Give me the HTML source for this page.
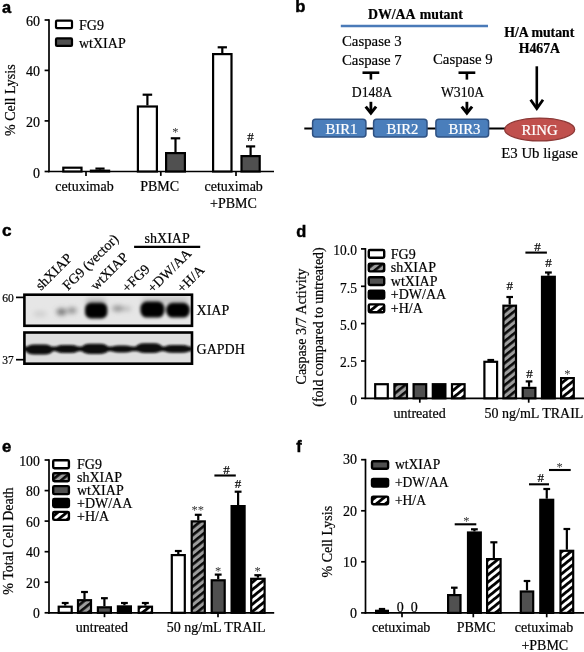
<!DOCTYPE html>
<html><head><meta charset="utf-8"><title>Figure</title>
<style>
html,body{margin:0;padding:0;background:#fff;}
body{width:584px;height:652px;overflow:hidden;}
svg{display:block;}
text.s{font-family:"Liberation Serif",serif;stroke:#111;stroke-width:0.22px;}
text.n{font-family:"Liberation Sans",sans-serif;stroke:#000;stroke-width:0.45px;}
</style></head><body>
<svg width="584" height="652" viewBox="0 0 584 652">
<defs>
<pattern id="hg" patternUnits="userSpaceOnUse" width="5.7" height="5.7" patternTransform="rotate(-39)">
<rect width="5.7" height="5.7" fill="#9c9c9c"/><rect x="0" y="0" width="5.7" height="2.6" fill="#0a0a0a"/></pattern>
<pattern id="hw" patternUnits="userSpaceOnUse" width="5.7" height="5.7" patternTransform="rotate(-39)">
<rect width="5.7" height="5.7" fill="#fff"/><rect x="0" y="0" width="5.7" height="2.8" fill="#000"/></pattern>
<filter id="b1" x="-30%" y="-60%" width="160%" height="220%"><feGaussianBlur stdDeviation="1.6"/></filter>
<filter id="b2" x="-30%" y="-60%" width="160%" height="220%"><feGaussianBlur stdDeviation="2.4"/></filter>
<filter id="b3" x="-30%" y="-60%" width="160%" height="220%"><feGaussianBlur stdDeviation="1.1"/></filter>
</defs>
<rect width="584" height="652" fill="#fff"/>

<text class="n" x="2" y="12.6" font-size="16.4" font-weight="bold" fill="#000">a</text>
<text class="n" x="295.3" y="12.4" font-size="16.6" font-weight="bold" fill="#000">b</text>
<text class="n" x="2.1" y="236.4" font-size="17.2" font-weight="bold" fill="#000">c</text>
<text class="n" x="296.2" y="236.8" font-size="16.4" font-weight="bold" fill="#000">d</text>
<text class="n" x="2.1" y="451.6" font-size="16.8" font-weight="bold" fill="#000">e</text>
<text class="n" x="296.2" y="452" font-size="16.4" font-weight="bold" fill="#000">f</text>
<g id="pa">
<line x1="49" y1="19.15" x2="49" y2="172.35" stroke="#000" stroke-width="1.7" stroke-linecap="butt"/>
<line x1="48.15" y1="171.5" x2="274" y2="171.5" stroke="#000" stroke-width="1.7" stroke-linecap="butt"/>
<line x1="44.6" y1="20" x2="49" y2="20" stroke="#000" stroke-width="1.7" stroke-linecap="butt"/>
<line x1="44.6" y1="70.4" x2="49" y2="70.4" stroke="#000" stroke-width="1.7" stroke-linecap="butt"/>
<line x1="44.6" y1="120.9" x2="49" y2="120.9" stroke="#000" stroke-width="1.7" stroke-linecap="butt"/>
<line x1="44.6" y1="171.5" x2="49" y2="171.5" stroke="#000" stroke-width="1.7" stroke-linecap="butt"/>
<line x1="86" y1="171.5" x2="86" y2="175.9" stroke="#000" stroke-width="1.7" stroke-linecap="butt"/>
<line x1="160.8" y1="171.5" x2="160.8" y2="175.9" stroke="#000" stroke-width="1.7" stroke-linecap="butt"/>
<line x1="236" y1="171.5" x2="236" y2="175.9" stroke="#000" stroke-width="1.7" stroke-linecap="butt"/>
<text class="s" x="39.9" y="26" font-size="14" text-anchor="end">60</text>
<text class="s" x="39.9" y="76.4" font-size="14" text-anchor="end">40</text>
<text class="s" x="39.9" y="126.9" font-size="14" text-anchor="end">20</text>
<text class="s" x="39.9" y="177.5" font-size="14" text-anchor="end">0</text>
<text class="s" x="15" y="100.2" font-size="14" text-anchor="middle" transform="rotate(-90 15 100.2)">% Cell Lysis</text>
<rect x="56" y="20.7" width="16" height="7.5" rx="1" fill="#fff" stroke="#000" stroke-width="2.2"/>
<rect x="56" y="38.4" width="16" height="7.5" rx="1" fill="#505050" stroke="#000" stroke-width="2.2"/>
<text class="s" x="79" y="30.3" font-size="14">FG9</text>
<text class="s" x="79" y="47.6" font-size="14">wtXIAP</text>
<rect x="63.30" y="167.70" width="18.20" height="3.80" fill="#fff" stroke="#000" stroke-width="2.2"/>
<line x1="100.0" y1="168.6" x2="100.0" y2="169.6" stroke="#000" stroke-width="2.2" stroke-linecap="butt"/>
<line x1="95.41" y1="168.6" x2="104.59" y2="168.6" stroke="#000" stroke-width="2.2" stroke-linecap="butt"/>
<rect x="90.90" y="170.70" width="18.20" height="0.80" fill="#505050" stroke="#000" stroke-width="2.2"/>
<line x1="147.4" y1="94.7" x2="147.4" y2="105.4" stroke="#000" stroke-width="2.2" stroke-linecap="butt"/>
<line x1="142.63" y1="94.7" x2="152.17000000000002" y2="94.7" stroke="#000" stroke-width="2.2" stroke-linecap="butt"/>
<rect x="137.90" y="106.50" width="19.00" height="65.00" fill="#fff" stroke="#000" stroke-width="2.2"/>
<line x1="175.5" y1="138.3" x2="175.5" y2="152" stroke="#000" stroke-width="2.2" stroke-linecap="butt"/>
<line x1="170.775" y1="138.3" x2="180.225" y2="138.3" stroke="#000" stroke-width="2.2" stroke-linecap="butt"/>
<rect x="166.10" y="153.10" width="18.80" height="18.40" fill="#505050" stroke="#000" stroke-width="2.2"/>
<line x1="222.3" y1="47.3" x2="222.3" y2="53" stroke="#000" stroke-width="2.2" stroke-linecap="butt"/>
<line x1="217.66500000000002" y1="47.3" x2="226.935" y2="47.3" stroke="#000" stroke-width="2.2" stroke-linecap="butt"/>
<rect x="213.10" y="54.10" width="18.40" height="117.40" fill="#fff" stroke="#000" stroke-width="2.2"/>
<line x1="250.60000000000002" y1="146.4" x2="250.60000000000002" y2="155" stroke="#000" stroke-width="2.2" stroke-linecap="butt"/>
<line x1="246.01000000000002" y1="146.4" x2="255.19000000000003" y2="146.4" stroke="#000" stroke-width="2.2" stroke-linecap="butt"/>
<rect x="241.50" y="156.10" width="18.20" height="15.40" fill="#505050" stroke="#000" stroke-width="2.2"/>
<text class="s" x="175.4" y="136" font-size="12.5" text-anchor="middle" fill="#333" style="stroke:none">*</text>
<text class="s" x="250.6" y="141" font-size="13" text-anchor="middle">#</text>
<text class="s" x="84.5" y="191" font-size="14" text-anchor="middle">cetuximab</text>
<text class="s" x="159.7" y="191" font-size="14" text-anchor="middle">PBMC</text>
<text class="s" x="233.7" y="191" font-size="14" text-anchor="middle">cetuximab</text>
<text class="s" x="233.4" y="207.8" font-size="14" text-anchor="middle">+PBMC</text>
</g>
<g id="pb">
<text class="s" x="415.4" y="18.5" font-size="13.8" text-anchor="middle" font-weight="bold" fill="#000" style="stroke:#000">DW/AA <tspan dx="1.6">mutant</tspan></text>
<line x1="340.8" y1="26" x2="488" y2="26" stroke="#4a7ab8" stroke-width="2.4" stroke-linecap="butt"/>
<text class="s" x="342" y="46.2" font-size="14.8">Caspase 3</text>
<text class="s" x="342" y="64.7" font-size="14.8">Caspase 7</text>
<text class="s" x="433" y="63.5" font-size="14.8">Caspase 9</text>
<text class="s" x="539.3" y="36.5" font-size="13.8" text-anchor="middle" font-weight="bold" fill="#000" style="stroke:#000">H/A mutant</text>
<text class="s" x="539.4" y="53.4" font-size="13.8" text-anchor="middle" font-weight="bold" fill="#000" style="stroke:#000">H467A</text>
<line x1="362.5" y1="72.7" x2="379.29999999999995" y2="72.7" stroke="#000" stroke-width="2.6" stroke-linecap="butt"/>
<line x1="370.9" y1="72.7" x2="370.9" y2="79.6" stroke="#000" stroke-width="2.6" stroke-linecap="butt"/>
<line x1="458.5" y1="72.7" x2="475.29999999999995" y2="72.7" stroke="#000" stroke-width="2.6" stroke-linecap="butt"/>
<line x1="466.9" y1="72.7" x2="466.9" y2="79.6" stroke="#000" stroke-width="2.6" stroke-linecap="butt"/>
<text class="s" x="372" y="97" font-size="13.7" text-anchor="middle">D148A</text>
<text class="s" x="462.6" y="97" font-size="13.7" text-anchor="middle">W310A</text>
<line x1="370.9" y1="101.8" x2="370.9" y2="112.5" stroke="#000" stroke-width="2.8" stroke-linecap="butt"/>
<polyline points="365.7,106.6 370.9,113 376.09999999999997,106.6" fill="none" stroke="#000" stroke-width="3" stroke-linejoin="miter"/>
<line x1="466.9" y1="101.8" x2="466.9" y2="112.5" stroke="#000" stroke-width="2.8" stroke-linecap="butt"/>
<polyline points="461.7,106.6 466.9,113 472.09999999999997,106.6" fill="none" stroke="#000" stroke-width="3" stroke-linejoin="miter"/>
<line x1="536.8" y1="66.3" x2="536.8" y2="108" stroke="#000" stroke-width="2.6" stroke-linecap="butt"/>
<polyline points="530.6,99.8 536.8,108.6 543,99.8" fill="none" stroke="#000" stroke-width="2.8"/>
<line x1="304.3" y1="128.5" x2="506" y2="128.5" stroke="#000" stroke-width="1.8" stroke-linecap="butt"/>
<rect x="312.6" y="119.3" width="53.3" height="17.6" rx="3" ry="3" fill="#4a7ebb" stroke="#2f5283" stroke-width="1.5"/>
<text class="s" x="341.45" y="133.6" font-size="14.8" text-anchor="middle" fill="#fff" style="stroke:#fff">BIR1</text>
<rect x="373.6" y="119.3" width="53.4" height="17.6" rx="3" ry="3" fill="#4a7ebb" stroke="#2f5283" stroke-width="1.5"/>
<text class="s" x="402.5" y="133.6" font-size="14.8" text-anchor="middle" fill="#fff" style="stroke:#fff">BIR2</text>
<rect x="435.90000000000003" y="119.3" width="52.7" height="17.6" rx="3" ry="3" fill="#4a7ebb" stroke="#2f5283" stroke-width="1.5"/>
<text class="s" x="464.45" y="133.6" font-size="14.8" text-anchor="middle" fill="#fff" style="stroke:#fff">BIR3</text>
<ellipse cx="539.7" cy="129.5" rx="35" ry="11.4" fill="#c0504d" stroke="#8c3836" stroke-width="1.3"/>
<text class="s" x="539.6" y="135.4" font-size="14.8" text-anchor="middle" fill="#fff" style="stroke:#fff">RING</text>
<text class="s" x="501.3" y="157.5" font-size="14.8">E3 Ub ligase</text>
</g>
<g id="pc">
<rect x="24.4" y="294.7" width="167.6" height="31.1" fill="#e6e6e6"/>
<rect x="24.4" y="332.5" width="167.6" height="31.2" fill="#dedede"/>
<clipPath id="c1"><rect x="24.4" y="294.7" width="167.6" height="31.1"/></clipPath>
<clipPath id="c2"><rect x="24.4" y="332.5" width="167.6" height="31.2"/></clipPath>
<g clip-path="url(#c1)">
<g filter="url(#b2)">
<ellipse cx="61.5" cy="311.8" rx="5" ry="3.4" fill="#707070"/>
<ellipse cx="72" cy="310.6" rx="4.5" ry="3" fill="#8a8a8a"/>
<ellipse cx="118" cy="308.6" rx="6" ry="2.8" fill="#8c8c8c"/>
<ellipse cx="127" cy="308.8" rx="4" ry="2" fill="#b0b0b0"/>
<ellipse cx="40" cy="314" rx="7" ry="3" fill="#cfcfcf"/>
<rect x="86" y="298" width="20" height="8" rx="4" fill="#b8b8b8"/>
<rect x="142" y="297" width="46" height="7" rx="3" fill="#c4c4c4"/>
</g>
<g filter="url(#b1)">
<rect x="85" y="302.8" width="22.4" height="15.8" rx="6" fill="#060606"/>
<rect x="140.4" y="301.6" width="24" height="16" rx="6.5" fill="#040404"/>
<rect x="166.2" y="302.8" width="23.6" height="14.8" rx="6.5" fill="#040404"/>
</g></g>
<g clip-path="url(#c2)"><g filter="url(#b3)">
<rect x="25.5" y="344.6" width="27.7" height="10" rx="9" ry="5.0" fill="#080808"/>
<rect x="54.4" y="345.0" width="25.4" height="8" rx="9" ry="4.0" fill="#080808"/>
<rect x="81" y="343.8" width="28.0" height="10.2" rx="9" ry="5.1" fill="#080808"/>
<rect x="110" y="345.4" width="23.6" height="7.2" rx="9" ry="3.6" fill="#080808"/>
<rect x="135.4" y="343.2" width="27.4" height="9.8" rx="9" ry="4.9" fill="#080808"/>
<rect x="163" y="345.0" width="28.0" height="7.8" rx="9" ry="3.9" fill="#080808"/>
<rect x="24" y="346.6" width="168" height="4.6" fill="#101010"/>
</g></g>
<rect x="24.4" y="294.7" width="167.6" height="31.1" fill="none" stroke="#000" stroke-width="2.6"/>
<rect x="24.4" y="332.5" width="167.6" height="31.2" fill="none" stroke="#000" stroke-width="2.6"/>
<text class="s" x="2.3" y="301.8" font-size="11.5">60</text>
<text class="s" x="2.3" y="364" font-size="11.5">37</text>
<line x1="16" y1="297.4" x2="24" y2="297.4" stroke="#000" stroke-width="1.7" stroke-linecap="butt"/>
<line x1="16" y1="359.7" x2="24" y2="359.7" stroke="#000" stroke-width="1.7" stroke-linecap="butt"/>
<text class="s" x="41" y="291" font-size="14" transform="rotate(-45 41 291)">shXIAP</text>
<text class="s" x="68" y="291" font-size="14" transform="rotate(-45 68 291)">FG9 (vector)</text>
<text class="s" x="96" y="291" font-size="14" transform="rotate(-45 96 291)">wtXIAP</text>
<text class="s" x="127.5" y="293.2" font-size="14" transform="rotate(-45 127.5 293.2)">+FG9</text>
<text class="s" x="153" y="293.4" font-size="14" transform="rotate(-45 153 293.4)">+DW/AA</text>
<text class="s" x="182.5" y="293.6" font-size="14" transform="rotate(-45 182.5 293.6)">+H/A</text>
<text class="s" x="144.6" y="242.6" font-size="14">shXIAP</text>
<line x1="134.1" y1="246.8" x2="200.2" y2="246.8" stroke="#000" stroke-width="2.3" stroke-linecap="butt"/>
<text class="s" x="196.6" y="315.2" font-size="14">XIAP</text>
<text class="s" x="196.6" y="353.8" font-size="14">GAPDH</text>
</g>
<g id="pd">
<line x1="365.4" y1="248.05" x2="365.4" y2="399.15000000000003" stroke="#000" stroke-width="1.7" stroke-linecap="butt"/>
<line x1="364.54999999999995" y1="398.3" x2="584" y2="398.3" stroke="#000" stroke-width="1.7" stroke-linecap="butt"/>
<line x1="360.99999999999994" y1="248.9" x2="365.4" y2="248.9" stroke="#000" stroke-width="1.7" stroke-linecap="butt"/>
<line x1="360.99999999999994" y1="286.3" x2="365.4" y2="286.3" stroke="#000" stroke-width="1.7" stroke-linecap="butt"/>
<line x1="360.99999999999994" y1="323.6" x2="365.4" y2="323.6" stroke="#000" stroke-width="1.7" stroke-linecap="butt"/>
<line x1="360.99999999999994" y1="361" x2="365.4" y2="361" stroke="#000" stroke-width="1.7" stroke-linecap="butt"/>
<line x1="360.99999999999994" y1="398.3" x2="365.4" y2="398.3" stroke="#000" stroke-width="1.7" stroke-linecap="butt"/>
<line x1="419.8" y1="398.3" x2="419.8" y2="402.70000000000005" stroke="#000" stroke-width="1.7" stroke-linecap="butt"/>
<line x1="528.7" y1="398.3" x2="528.7" y2="402.70000000000005" stroke="#000" stroke-width="1.7" stroke-linecap="butt"/>
<text class="s" transform="translate(356.9 255.20000000000002) scale(0.95 1)" font-size="14.2" text-anchor="end">10.0</text>
<text class="s" transform="translate(356.9 292.6) scale(0.95 1)" font-size="14.2" text-anchor="end">7.5</text>
<text class="s" transform="translate(356.9 329.90000000000003) scale(0.95 1)" font-size="14.2" text-anchor="end">5.0</text>
<text class="s" transform="translate(356.9 367.3) scale(0.95 1)" font-size="14.2" text-anchor="end">2.5</text>
<text class="s" transform="translate(356.9 404.6) scale(0.95 1)" font-size="14.2" text-anchor="end">0</text>
<text class="s" x="306" y="326.5" font-size="14" text-anchor="middle" transform="rotate(-90 306 326.5)">Caspase 3/7 Activity</text>
<text class="s" x="322.8" y="327" font-size="13.9" text-anchor="middle" transform="rotate(-90 322.8 327)">(fold compared to untreated)</text>
<rect x="368.8" y="250.0" width="15.4" height="7.8" rx="1.2" fill="#fff" stroke="#000" stroke-width="2.4"/>
<text class="s" x="390.8" y="258.6" font-size="14">FG9</text>
<rect x="368.8" y="263.6" width="15.4" height="7.8" rx="1.2" fill="url(#hg)" stroke="#000" stroke-width="2.4"/>
<text class="s" x="390.8" y="272.20000000000005" font-size="14">shXIAP</text>
<rect x="368.8" y="277.2" width="15.4" height="7.8" rx="1.2" fill="#505050" stroke="#000" stroke-width="2.4"/>
<text class="s" x="390.8" y="285.8" font-size="14">wtXIAP</text>
<rect x="368.8" y="290.8" width="15.4" height="7.8" rx="1.2" fill="#000" stroke="#000" stroke-width="2.4"/>
<text class="s" x="390.8" y="299.40000000000003" font-size="14">+DW/AA</text>
<rect x="368.8" y="304.4" width="15.4" height="7.8" rx="1.2" fill="url(#hw)" stroke="#000" stroke-width="2.4"/>
<text class="s" x="390.8" y="313.0" font-size="14">+H/A</text>
<rect x="375.20" y="384.20" width="12.60" height="14.10" fill="#fff" stroke="#000" stroke-width="2.2"/>
<rect x="394.40" y="384.20" width="12.60" height="14.10" fill="url(#hg)" stroke="#000" stroke-width="2.2"/>
<rect x="413.60" y="384.20" width="12.60" height="14.10" fill="#505050" stroke="#000" stroke-width="2.2"/>
<rect x="432.80" y="384.20" width="12.60" height="14.10" fill="#000" stroke="#000" stroke-width="2.2"/>
<rect x="452.00" y="384.20" width="12.60" height="14.10" fill="url(#hw)" stroke="#000" stroke-width="2.2"/>
<line x1="490.75" y1="360" x2="490.75" y2="360.7" stroke="#000" stroke-width="2.2" stroke-linecap="butt"/>
<line x1="487.3975" y1="360" x2="494.1025" y2="360" stroke="#000" stroke-width="2.2" stroke-linecap="butt"/>
<rect x="484.40" y="361.80" width="12.70" height="36.50" fill="#fff" stroke="#000" stroke-width="2.2"/>
<line x1="509.70000000000005" y1="297" x2="509.70000000000005" y2="304.59999999999997" stroke="#000" stroke-width="2.2" stroke-linecap="butt"/>
<line x1="506.37000000000006" y1="297" x2="513.0300000000001" y2="297" stroke="#000" stroke-width="2.2" stroke-linecap="butt"/>
<rect x="503.40" y="305.70" width="12.60" height="92.60" fill="url(#hg)" stroke="#000" stroke-width="2.2"/>
<line x1="529.05" y1="381.4" x2="529.05" y2="386.8" stroke="#000" stroke-width="2.2" stroke-linecap="butt"/>
<line x1="525.6975" y1="381.4" x2="532.4024999999999" y2="381.4" stroke="#000" stroke-width="2.2" stroke-linecap="butt"/>
<rect x="522.70" y="387.90" width="12.70" height="10.40" fill="#505050" stroke="#000" stroke-width="2.2"/>
<line x1="548.4000000000001" y1="272.5" x2="548.4000000000001" y2="275.7" stroke="#000" stroke-width="2.2" stroke-linecap="butt"/>
<line x1="545.0250000000001" y1="272.5" x2="551.7750000000001" y2="272.5" stroke="#000" stroke-width="2.2" stroke-linecap="butt"/>
<rect x="542.00" y="276.80" width="12.80" height="121.50" fill="#000" stroke="#000" stroke-width="2.2"/>
<rect x="561.10" y="378.10" width="12.70" height="20.20" fill="url(#hw)" stroke="#000" stroke-width="2.2"/>
<text class="s" x="509.8" y="289.5" font-size="13" text-anchor="middle">#</text>
<text class="s" x="529.5" y="378.3" font-size="13" text-anchor="middle">#</text>
<text class="s" x="548.4" y="266.5" font-size="13" text-anchor="middle">#</text>
<text class="s" x="567.4" y="377.5" font-size="12.5" text-anchor="middle" fill="#333" style="stroke:none">*</text>
<line x1="525.4" y1="252.6" x2="546.9" y2="252.6" stroke="#000" stroke-width="2.1" stroke-linecap="butt"/>
<text class="s" x="537.4" y="251" font-size="13" text-anchor="middle">#</text>
<text class="s" x="419.6" y="418" font-size="14" text-anchor="middle">untreated</text>
<text class="s" x="484.6" y="418" font-size="14">50 ng/mL TRAIL</text>
</g>
<g id="pe">
<line x1="49" y1="459.15" x2="49" y2="613.65" stroke="#000" stroke-width="1.7" stroke-linecap="butt"/>
<line x1="48.15" y1="612.8" x2="274.2" y2="612.8" stroke="#000" stroke-width="1.7" stroke-linecap="butt"/>
<line x1="44.6" y1="460" x2="49" y2="460" stroke="#000" stroke-width="1.7" stroke-linecap="butt"/>
<line x1="44.6" y1="490.6" x2="49" y2="490.6" stroke="#000" stroke-width="1.7" stroke-linecap="butt"/>
<line x1="44.6" y1="521.1" x2="49" y2="521.1" stroke="#000" stroke-width="1.7" stroke-linecap="butt"/>
<line x1="44.6" y1="551.7" x2="49" y2="551.7" stroke="#000" stroke-width="1.7" stroke-linecap="butt"/>
<line x1="44.6" y1="582.2" x2="49" y2="582.2" stroke="#000" stroke-width="1.7" stroke-linecap="butt"/>
<line x1="44.6" y1="612.8" x2="49" y2="612.8" stroke="#000" stroke-width="1.7" stroke-linecap="butt"/>
<line x1="104.5" y1="612.8" x2="104.5" y2="617.1999999999999" stroke="#000" stroke-width="1.7" stroke-linecap="butt"/>
<line x1="218" y1="612.8" x2="218" y2="617.1999999999999" stroke="#000" stroke-width="1.7" stroke-linecap="butt"/>
<text class="s" transform="translate(39.8 465.6) scale(0.98 1)" font-size="14" text-anchor="end">100</text>
<text class="s" transform="translate(39.8 496.20000000000005) scale(0.98 1)" font-size="14" text-anchor="end">80</text>
<text class="s" transform="translate(39.8 526.7) scale(0.98 1)" font-size="14" text-anchor="end">60</text>
<text class="s" transform="translate(39.8 557.3000000000001) scale(0.98 1)" font-size="14" text-anchor="end">40</text>
<text class="s" transform="translate(39.8 587.8000000000001) scale(0.98 1)" font-size="14" text-anchor="end">20</text>
<text class="s" transform="translate(39.8 618.4) scale(0.98 1)" font-size="14" text-anchor="end">0</text>
<text class="s" x="13" y="541" font-size="14" text-anchor="middle" transform="rotate(-90 13 541)">% Total Cell Death</text>
<rect x="53.2" y="460.3" width="15.7" height="8" rx="1.2" fill="#fff" stroke="#000" stroke-width="2.4"/>
<text class="s" x="77" y="469.1" font-size="14">FG9</text>
<rect x="53.2" y="473.2" width="15.7" height="8" rx="1.2" fill="url(#hg)" stroke="#000" stroke-width="2.4"/>
<text class="s" x="77" y="482.0" font-size="14">shXIAP</text>
<rect x="53.2" y="486.1" width="15.7" height="8" rx="1.2" fill="#505050" stroke="#000" stroke-width="2.4"/>
<text class="s" x="77" y="494.90000000000003" font-size="14">wtXIAP</text>
<rect x="53.2" y="499.0" width="15.7" height="8" rx="1.2" fill="#000" stroke="#000" stroke-width="2.4"/>
<text class="s" x="77" y="507.8" font-size="14">+DW/AA</text>
<rect x="53.2" y="511.9" width="15.7" height="8" rx="1.2" fill="url(#hw)" stroke="#000" stroke-width="2.4"/>
<text class="s" x="77" y="520.6999999999999" font-size="14">+H/A</text>
<line x1="65.19999999999999" y1="603" x2="65.19999999999999" y2="605.6" stroke="#000" stroke-width="2.2" stroke-linecap="butt"/>
<line x1="61.77999999999999" y1="603" x2="68.61999999999999" y2="603" stroke="#000" stroke-width="2.2" stroke-linecap="butt"/>
<rect x="58.70" y="606.70" width="13.00" height="6.10" fill="#fff" stroke="#000" stroke-width="2.2"/>
<line x1="84.5" y1="592" x2="84.5" y2="599.1" stroke="#000" stroke-width="2.2" stroke-linecap="butt"/>
<line x1="81.08" y1="592" x2="87.92" y2="592" stroke="#000" stroke-width="2.2" stroke-linecap="butt"/>
<rect x="78.00" y="600.20" width="13.00" height="12.60" fill="url(#hg)" stroke="#000" stroke-width="2.2"/>
<line x1="104.4" y1="598.2" x2="104.4" y2="606.1999999999999" stroke="#000" stroke-width="2.2" stroke-linecap="butt"/>
<line x1="100.98" y1="598.2" x2="107.82000000000001" y2="598.2" stroke="#000" stroke-width="2.2" stroke-linecap="butt"/>
<rect x="97.90" y="607.30" width="13.00" height="5.50" fill="#505050" stroke="#000" stroke-width="2.2"/>
<line x1="124.4" y1="603" x2="124.4" y2="605.3" stroke="#000" stroke-width="2.2" stroke-linecap="butt"/>
<line x1="120.98" y1="603" x2="127.82000000000001" y2="603" stroke="#000" stroke-width="2.2" stroke-linecap="butt"/>
<rect x="117.90" y="606.40" width="13.00" height="6.40" fill="#000" stroke="#000" stroke-width="2.2"/>
<line x1="145.35000000000002" y1="603" x2="145.35000000000002" y2="605.6" stroke="#000" stroke-width="2.2" stroke-linecap="butt"/>
<line x1="141.86250000000004" y1="603" x2="148.8375" y2="603" stroke="#000" stroke-width="2.2" stroke-linecap="butt"/>
<rect x="138.70" y="606.70" width="13.30" height="6.10" fill="url(#hw)" stroke="#000" stroke-width="2.2"/>
<line x1="178.3" y1="551" x2="178.3" y2="554.0" stroke="#000" stroke-width="2.2" stroke-linecap="butt"/>
<line x1="174.88000000000002" y1="551" x2="181.72" y2="551" stroke="#000" stroke-width="2.2" stroke-linecap="butt"/>
<rect x="171.80" y="555.10" width="13.00" height="57.70" fill="#fff" stroke="#000" stroke-width="2.2"/>
<line x1="198.25" y1="514.8" x2="198.25" y2="520.3" stroke="#000" stroke-width="2.2" stroke-linecap="butt"/>
<line x1="194.8075" y1="514.8" x2="201.6925" y2="514.8" stroke="#000" stroke-width="2.2" stroke-linecap="butt"/>
<rect x="191.70" y="521.40" width="13.10" height="91.40" fill="url(#hg)" stroke="#000" stroke-width="2.2"/>
<line x1="218.2" y1="574.6" x2="218.2" y2="579.1999999999999" stroke="#000" stroke-width="2.2" stroke-linecap="butt"/>
<line x1="214.78" y1="574.6" x2="221.61999999999998" y2="574.6" stroke="#000" stroke-width="2.2" stroke-linecap="butt"/>
<rect x="211.70" y="580.30" width="13.00" height="32.50" fill="#505050" stroke="#000" stroke-width="2.2"/>
<line x1="238.1" y1="491.7" x2="238.1" y2="505.0" stroke="#000" stroke-width="2.2" stroke-linecap="butt"/>
<line x1="234.68" y1="491.7" x2="241.51999999999998" y2="491.7" stroke="#000" stroke-width="2.2" stroke-linecap="butt"/>
<rect x="231.60" y="506.10" width="13.00" height="106.70" fill="#000" stroke="#000" stroke-width="2.2"/>
<line x1="257.9" y1="575.2" x2="257.9" y2="577.6999999999999" stroke="#000" stroke-width="2.2" stroke-linecap="butt"/>
<line x1="254.39" y1="575.2" x2="261.40999999999997" y2="575.2" stroke="#000" stroke-width="2.2" stroke-linecap="butt"/>
<rect x="251.20" y="578.80" width="13.40" height="34.00" fill="url(#hw)" stroke="#000" stroke-width="2.2"/>
<text class="s" x="197.8" y="513.5" font-size="12.5" text-anchor="middle" fill="#333" style="stroke:none">**</text>
<text class="s" x="218" y="575" font-size="12.5" text-anchor="middle" fill="#333" style="stroke:none">*</text>
<text class="s" x="238" y="488" font-size="13" text-anchor="middle">#</text>
<text class="s" x="257.5" y="575" font-size="12.5" text-anchor="middle" fill="#333" style="stroke:none">*</text>
<line x1="214.4" y1="475.5" x2="235.8" y2="475.5" stroke="#000" stroke-width="2.1" stroke-linecap="butt"/>
<text class="s" x="226.6" y="474" font-size="13" text-anchor="middle">#</text>
<text class="s" x="101.9" y="632.2" font-size="14" text-anchor="middle">untreated</text>
<text class="s" x="166.8" y="632.2" font-size="14">50 ng/mL TRAIL</text>
</g>
<g id="pf">
<line x1="365.5" y1="458.84999999999997" x2="365.5" y2="613.75" stroke="#000" stroke-width="1.7" stroke-linecap="butt"/>
<line x1="364.65" y1="612.9" x2="584" y2="612.9" stroke="#000" stroke-width="1.7" stroke-linecap="butt"/>
<line x1="361.09999999999997" y1="459.7" x2="365.5" y2="459.7" stroke="#000" stroke-width="1.7" stroke-linecap="butt"/>
<line x1="361.09999999999997" y1="510.8" x2="365.5" y2="510.8" stroke="#000" stroke-width="1.7" stroke-linecap="butt"/>
<line x1="361.09999999999997" y1="561.8" x2="365.5" y2="561.8" stroke="#000" stroke-width="1.7" stroke-linecap="butt"/>
<line x1="361.09999999999997" y1="612.9" x2="365.5" y2="612.9" stroke="#000" stroke-width="1.7" stroke-linecap="butt"/>
<line x1="402" y1="612.9" x2="402" y2="617.3" stroke="#000" stroke-width="1.7" stroke-linecap="butt"/>
<line x1="473.3" y1="612.9" x2="473.3" y2="617.3" stroke="#000" stroke-width="1.7" stroke-linecap="butt"/>
<line x1="546.7" y1="612.9" x2="546.7" y2="617.3" stroke="#000" stroke-width="1.7" stroke-linecap="butt"/>
<text class="s" x="356.9" y="464.4" font-size="14" text-anchor="end">30</text>
<text class="s" x="356.9" y="515.5" font-size="14" text-anchor="end">20</text>
<text class="s" x="356.9" y="566.5" font-size="14" text-anchor="end">10</text>
<text class="s" x="356.9" y="617.6" font-size="14" text-anchor="end">0</text>
<text class="s" x="332" y="541.7" font-size="14" text-anchor="middle" transform="rotate(-90 332 541.7)">% Cell Lysis</text>
<rect x="372" y="461.2" width="16.1" height="7.6" rx="1.2" fill="#505050" stroke="#000" stroke-width="2.4"/>
<text class="s" x="394.9" y="469.2" font-size="13.6">wtXIAP</text>
<rect x="372" y="478.9" width="16.1" height="7.6" rx="1.2" fill="#000" stroke="#000" stroke-width="2.4"/>
<text class="s" x="394.9" y="486.9" font-size="13.6">+DW/AA</text>
<rect x="372" y="496.6" width="16.1" height="7.6" rx="1.2" fill="url(#hw)" stroke="#000" stroke-width="2.4"/>
<text class="s" x="394.9" y="504.59999999999997" font-size="13.6">+H/A</text>
<line x1="382.0" y1="609" x2="382.0" y2="609.7" stroke="#000" stroke-width="2.2" stroke-linecap="butt"/>
<line x1="378.85" y1="609" x2="385.15" y2="609" stroke="#000" stroke-width="2.2" stroke-linecap="butt"/>
<rect x="376.10" y="610.80" width="11.80" height="2.10" fill="#505050" stroke="#000" stroke-width="2.2"/>
<text class="s" x="400.3" y="611.7" font-size="14" text-anchor="middle">0</text>
<text class="s" x="414.3" y="611.7" font-size="14" text-anchor="middle">0</text>
<line x1="454.3" y1="587.7" x2="454.3" y2="594.0" stroke="#000" stroke-width="2.2" stroke-linecap="butt"/>
<line x1="451.015" y1="587.7" x2="457.58500000000004" y2="587.7" stroke="#000" stroke-width="2.2" stroke-linecap="butt"/>
<rect x="448.10" y="595.10" width="12.40" height="17.80" fill="#505050" stroke="#000" stroke-width="2.2"/>
<line x1="474.4" y1="529.3" x2="474.4" y2="531.4000000000001" stroke="#000" stroke-width="2.2" stroke-linecap="butt"/>
<line x1="471.025" y1="529.3" x2="477.775" y2="529.3" stroke="#000" stroke-width="2.2" stroke-linecap="butt"/>
<rect x="468.00" y="532.50" width="12.80" height="80.40" fill="#000" stroke="#000" stroke-width="2.2"/>
<line x1="493.85" y1="542.3" x2="493.85" y2="558.0" stroke="#000" stroke-width="2.2" stroke-linecap="butt"/>
<line x1="490.31750000000005" y1="542.3" x2="497.3825" y2="542.3" stroke="#000" stroke-width="2.2" stroke-linecap="butt"/>
<rect x="487.10" y="559.10" width="13.50" height="53.80" fill="url(#hw)" stroke="#000" stroke-width="2.2"/>
<line x1="527.0" y1="581" x2="527.0" y2="590.4000000000001" stroke="#000" stroke-width="2.2" stroke-linecap="butt"/>
<line x1="523.715" y1="581" x2="530.285" y2="581" stroke="#000" stroke-width="2.2" stroke-linecap="butt"/>
<rect x="520.80" y="591.50" width="12.40" height="21.40" fill="#505050" stroke="#000" stroke-width="2.2"/>
<line x1="546.75" y1="489" x2="546.75" y2="498.7" stroke="#000" stroke-width="2.2" stroke-linecap="butt"/>
<line x1="543.3525" y1="489" x2="550.1475" y2="489" stroke="#000" stroke-width="2.2" stroke-linecap="butt"/>
<rect x="540.30" y="499.80" width="12.90" height="113.10" fill="#000" stroke="#000" stroke-width="2.2"/>
<line x1="566.85" y1="529" x2="566.85" y2="549.7" stroke="#000" stroke-width="2.2" stroke-linecap="butt"/>
<line x1="563.4975000000001" y1="529" x2="570.2025" y2="529" stroke="#000" stroke-width="2.2" stroke-linecap="butt"/>
<rect x="560.50" y="550.80" width="12.70" height="62.10" fill="url(#hw)" stroke="#000" stroke-width="2.2"/>
<line x1="454.7" y1="524.3" x2="476.3" y2="524.3" stroke="#000" stroke-width="2.1" stroke-linecap="butt"/>
<text class="s" x="466.3" y="525" font-size="12.5" text-anchor="middle" fill="#333" style="stroke:none">*</text>
<line x1="529" y1="484.3" x2="549" y2="484.3" stroke="#000" stroke-width="2.1" stroke-linecap="butt"/>
<text class="s" x="540.7" y="482" font-size="13" text-anchor="middle">#</text>
<line x1="549" y1="470" x2="570.7" y2="470" stroke="#000" stroke-width="2.1" stroke-linecap="butt"/>
<text class="s" x="559.5" y="470.5" font-size="12.5" text-anchor="middle" fill="#333" style="stroke:none">*</text>
<text class="s" x="401.2" y="631.7" font-size="14" text-anchor="middle">cetuximab</text>
<text class="s" x="476.2" y="632.2" font-size="14" text-anchor="middle">PBMC</text>
<text class="s" x="544" y="632.2" font-size="14" text-anchor="middle">cetuximab</text>
<text class="s" x="544.8" y="649.9" font-size="14" text-anchor="middle">+PBMC</text>
</g>
</svg></body></html>
